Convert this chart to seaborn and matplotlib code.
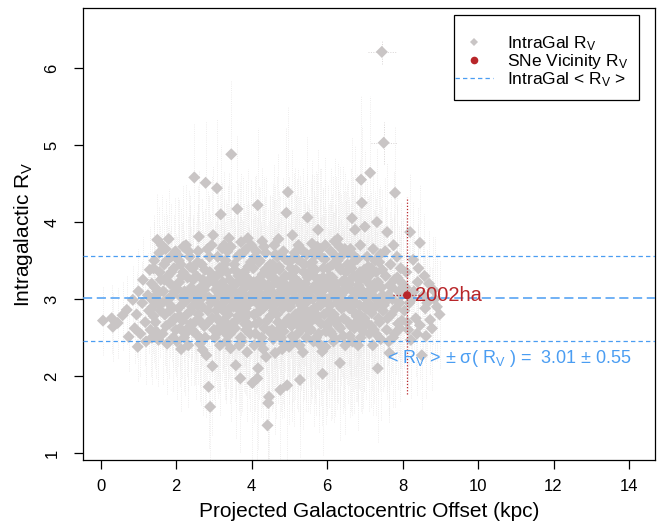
import matplotlib
matplotlib.use("Agg")
import matplotlib.pyplot as plt
from matplotlib.lines import Line2D
from matplotlib.patches import Rectangle
import matplotlib.transforms as mtransforms
import seaborn as sns
import pandas as pd
import numpy as np

# ---------------- data ----------------
# intragalactic sample: rows of 10 points
offset_kpc = [
    0.06, 0.29, 0.32, 0.45, 0.58, 0.69, 0.74, 0.85, 0.98, 0.90,
    0.95, 1.00, 1.05, 1.10, 1.12, 1.18, 1.20, 1.25, 1.28, 1.30,
    1.32, 1.35, 1.38, 1.42, 1.45, 1.48, 1.50, 1.53, 1.56, 1.58,
    1.34, 1.40, 1.44, 1.47, 1.52, 1.55, 1.40, 1.36, 1.50, 1.59,
    1.62, 1.64, 1.66, 1.68, 1.70, 1.72, 1.74, 1.76, 1.78, 1.80,
    1.82, 1.84, 1.86, 1.88, 1.90, 1.92, 1.94, 1.96, 1.98, 2.00,
    1.63, 1.69, 1.73, 1.79, 1.83, 1.87, 1.91, 1.95, 1.99, 1.75,
    2.02, 2.04, 2.06, 2.08, 2.10, 2.12, 2.14, 2.16, 2.18, 2.20,
    2.22, 2.24, 2.26, 2.28, 2.30, 2.32, 2.34, 2.36, 2.38, 2.40,
    2.42, 2.44, 2.46, 2.48, 2.50, 2.03, 2.09, 2.15, 2.21, 2.27,
    2.33, 2.39, 2.45, 2.49, 2.07, 2.19, 2.31, 2.43, 2.13, 2.37,
    2.52, 2.54, 2.56, 2.58, 2.60, 2.62, 2.64, 2.66, 2.68, 2.70,
    2.72, 2.74, 2.76, 2.78, 2.80, 2.82, 2.84, 2.86, 2.88, 2.90,
    2.92, 2.94, 2.96, 2.98, 3.00, 2.53, 2.59, 2.65, 2.71, 2.77,
    2.83, 2.89, 2.95, 2.57, 2.63, 2.69, 2.75, 2.81, 2.87, 2.93,
    3.02, 3.04, 3.06, 3.08, 3.10, 3.12, 3.14, 3.16, 3.18, 3.20,
    3.22, 3.24, 3.26, 3.28, 3.30, 3.32, 3.34, 3.36, 3.38, 3.40,
    3.42, 3.44, 3.46, 3.48, 3.50, 3.03, 3.09, 3.15, 3.21, 3.27,
    3.33, 3.39, 3.45, 3.49, 3.07, 3.13, 3.19, 3.25, 3.31, 3.37,
    3.05, 3.11, 3.17, 3.23, 3.29, 3.35, 3.41, 3.47, 3.43, 3.26,
    3.52, 3.54, 3.56, 3.58, 3.60, 3.62, 3.64, 3.66, 3.68, 3.70,
    3.72, 3.74, 3.76, 3.78, 3.80, 3.82, 3.84, 3.86, 3.88, 3.90,
    3.92, 3.94, 3.96, 3.98, 3.53, 3.59, 3.65, 3.71, 3.77, 3.83,
    3.89, 3.95, 3.99, 3.55, 3.61, 3.67, 3.73, 3.79, 3.85, 3.91,
    3.57, 3.63, 3.69, 3.75, 3.81, 3.87, 3.93, 3.97, 3.68, 3.84,
    4.02, 4.04, 4.06, 4.08, 4.10, 4.12, 4.14, 4.16, 4.18, 4.20,
    4.22, 4.24, 4.26, 4.28, 4.30, 4.32, 4.34, 4.36, 4.38, 4.40,
    4.42, 4.44, 4.46, 4.48, 4.50, 4.03, 4.09, 4.15, 4.17, 4.21,
    4.27, 4.33, 4.39, 4.45, 4.49, 4.05, 4.11, 4.23, 4.29, 4.35,
    4.41, 4.47, 4.07, 4.13, 4.19, 4.25, 4.31, 4.37, 4.43, 4.14,
    4.52, 4.54, 4.56, 4.58, 4.60, 4.62, 4.64, 4.66, 4.68, 4.70,
    4.72, 4.74, 4.76, 4.78, 4.80, 4.82, 4.84, 4.86, 4.88, 4.90,
    4.92, 4.94, 4.96, 4.98, 5.00, 4.53, 4.59, 4.65, 4.71, 4.77,
    4.83, 4.89, 4.95, 4.99, 4.55, 4.61, 4.67, 4.73, 4.79, 4.85,
    4.91, 4.97, 4.57, 4.63, 4.69, 4.75, 4.81, 4.87, 4.93, 4.64,
    5.02, 5.04, 5.06, 5.08, 5.10, 5.12, 5.14, 5.16, 5.18, 5.20,
    5.22, 5.24, 5.26, 5.28, 5.30, 5.32, 5.34, 5.36, 5.38, 5.40,
    5.42, 5.44, 5.46, 5.48, 5.50, 5.03, 5.09, 5.15, 5.21, 5.27,
    5.33, 5.39, 5.45, 5.49, 5.05, 5.11, 5.17, 5.23, 5.29, 5.35,
    5.41, 5.47, 5.07, 5.13, 5.19, 5.25, 5.31, 5.37, 5.43, 5.26,
    5.52, 5.54, 5.56, 5.58, 5.60, 5.62, 5.64, 5.66, 5.68, 5.70,
    5.72, 5.74, 5.76, 5.78, 5.80, 5.82, 5.84, 5.86, 5.88, 5.90,
    5.92, 5.94, 5.96, 5.98, 6.00, 5.53, 5.59, 5.65, 5.71, 5.77,
    5.83, 5.89, 5.95, 5.99, 5.55, 5.61, 5.67, 5.73, 5.79, 5.85,
    5.91, 5.97, 5.57, 5.63, 5.69, 5.75, 5.81, 5.87, 5.93, 5.74,
    6.02, 6.04, 6.06, 6.08, 6.10, 6.12, 6.14, 6.16, 6.18, 6.20,
    6.22, 6.24, 6.26, 6.28, 6.30, 6.32, 6.34, 6.36, 6.38, 6.40,
    6.42, 6.44, 6.46, 6.48, 6.50, 6.03, 6.09, 6.15, 6.21, 6.27,
    6.33, 6.39, 6.45, 6.49, 6.05, 6.11, 6.17, 6.23, 6.29, 6.35,
    6.41, 6.47, 6.07, 6.13, 6.19, 6.25, 6.31, 6.37, 6.43, 6.28,
    6.52, 6.54, 6.56, 6.58, 6.60, 6.62, 6.64, 6.66, 6.68, 6.70,
    6.72, 6.74, 6.76, 6.78, 6.80, 6.82, 6.84, 6.86, 6.88, 6.90,
    6.92, 6.94, 6.96, 6.98, 7.00, 6.53, 6.59, 6.65, 6.71, 6.77,
    6.83, 6.89, 6.95, 6.99, 6.55, 6.61, 6.67, 6.73, 6.79, 6.85,
    6.91, 6.97, 6.57, 6.63, 6.69, 6.75, 6.81, 6.87, 6.93, 6.64,
    7.02, 7.04, 7.06, 7.08, 7.10, 7.12, 7.14, 7.16, 7.18, 7.20,
    7.22, 7.24, 7.26, 7.28, 7.30, 7.32, 7.34, 7.36, 7.38, 7.40,
    7.42, 7.44, 7.46, 7.48, 7.50, 7.05, 7.11, 7.17, 7.23, 7.29,
    7.35, 7.41, 7.47, 7.03, 7.09, 7.15, 7.21, 7.27, 7.33, 7.39,
    7.52, 7.55, 7.58, 7.59, 7.62, 7.65, 7.68, 7.70, 7.72, 7.75,
    7.78, 7.80, 7.82, 7.85, 7.88, 7.90, 7.92, 7.95, 7.98, 8.00,
    7.54, 7.60, 7.66, 7.73, 7.79, 7.86, 7.93, 7.97, 7.63, 7.76,
    8.05, 8.10, 8.15, 8.20, 8.22, 8.28, 8.30, 8.35, 8.40, 8.46,
    8.46, 8.51, 8.55, 8.60, 8.65, 8.70, 8.73, 8.81, 8.91, 8.98,
    8.08, 8.18, 8.25, 8.38, 8.42, 8.58, 8.62, 8.78, 8.85, 8.12,
]
rv_intragal = [
    2.72, 2.75, 2.64, 2.69, 2.79, 2.86, 2.51, 2.99, 2.38, 2.62,
    2.80, 3.10, 2.55, 2.95, 3.25, 2.70, 2.45, 3.05, 2.85, 3.38,
    2.60, 3.20, 2.90, 3.50, 2.70, 3.05, 3.77, 2.47, 3.35, 2.85,
    3.00, 2.78, 3.15, 2.58, 2.95, 3.60, 3.40, 2.50, 3.10, 3.25,
    3.70, 2.55, 3.10, 3.45, 2.80, 3.65, 2.98, 2.42, 3.30, 3.78,
    2.68, 3.20, 3.55, 2.90, 3.05, 2.50, 3.40, 2.75, 3.62, 3.15,
    2.95, 3.25, 2.65, 3.00, 2.85, 3.35, 2.72, 3.10, 2.60, 3.50,
    2.45, 3.57, 2.88, 3.22, 2.62, 3.45, 3.02, 2.72, 3.35, 2.95,
    3.10, 2.55, 3.70, 2.80, 3.28, 2.40, 3.05, 3.55, 2.68, 3.15,
    2.90, 3.40, 2.58, 4.58, 3.00, 3.12, 2.78, 3.30, 2.50, 2.98,
    3.62, 2.85, 3.25, 2.70, 3.50, 3.68, 2.62, 3.05, 2.35, 3.42,
    2.55, 3.30, 2.92, 3.62, 3.81, 2.72, 3.15, 2.48, 3.45, 2.34,
    3.05, 2.65, 3.38, 4.51, 2.27, 3.20, 2.85, 1.86, 3.55, 1.60,
    2.95, 3.70, 2.13, 3.83, 2.60, 3.10, 2.80, 3.00, 3.25, 2.50,
    3.65, 3.35, 2.75, 3.48, 2.42, 2.90, 3.12, 2.68, 3.02, 3.28,
    2.50, 3.20, 2.85, 4.44, 3.55, 2.62, 3.08, 2.40, 4.10, 3.35,
    3.66, 2.95, 2.72, 3.45, 3.15, 2.55, 3.00, 3.62, 2.80, 3.79,
    3.25, 2.36, 4.88, 2.68, 3.10, 3.00, 2.75, 3.40, 2.90, 3.70,
    2.45, 3.05, 3.68, 2.98, 3.30, 2.58, 3.18, 2.85, 3.50, 2.65,
    3.12, 2.92, 2.70, 3.22, 2.60, 3.35, 2.88, 3.15, 2.55, 3.02,
    2.90, 3.45, 2.62, 2.14, 3.20, 4.17, 2.78, 3.05, 3.58, 1.97,
    3.74, 2.45, 3.12, 2.85, 3.35, 2.68, 3.00, 3.65, 2.31, 3.79,
    3.25, 2.95, 2.55, 3.48, 3.10, 2.72, 3.30, 2.50, 3.60, 3.15,
    2.80, 3.05, 3.70, 3.38, 2.92, 2.40, 3.22, 2.98, 2.60, 3.42,
    3.00, 3.55, 2.85, 3.08, 2.75, 3.28, 2.66, 3.18, 3.32, 2.88,
    1.91, 3.40, 2.80, 3.10, 2.55, 3.62, 2.95, 4.22, 3.25, 2.70,
    3.50, 2.42, 3.05, 3.75, 2.88, 3.20, 2.62, 3.38, 2.25, 3.00,
    1.36, 1.65, 1.73, 3.30, 2.78, 2.98, 3.55, 1.97, 2.10, 3.15,
    2.50, 3.68, 2.92, 3.12, 3.45, 3.22, 2.68, 2.85, 3.32, 3.05,
    2.72, 2.58, 2.40, 3.08, 3.48, 2.98, 2.35, 3.60, 3.18, 2.82,
    3.10, 2.60, 3.45, 2.85, 3.70, 2.30, 3.25, 2.95, 3.55, 2.70,
    3.05, 3.38, 1.82, 2.50, 3.15, 2.88, 3.62, 2.42, 3.00, 3.30,
    4.12, 1.88, 4.39, 2.75, 3.48, 2.92, 3.20, 2.55, 3.78, 2.98,
    2.65, 3.52, 3.08, 2.38, 3.35, 3.00, 2.80, 3.42, 3.12, 2.58,
    3.18, 2.90, 2.48, 3.58, 3.22, 2.62, 2.35, 3.28, 2.72, 3.02,
    2.90, 3.40, 2.65, 3.83, 3.10, 2.45, 3.60, 2.80, 3.25, 3.00,
    2.55, 3.70, 3.15, 1.95, 2.85, 3.48, 3.05, 2.31, 3.35, 2.70,
    3.20, 2.95, 3.58, 4.06, 2.60, 3.30, 2.72, 3.02, 3.52, 2.40,
    3.12, 2.88, 2.50, 3.28, 3.18, 2.98, 3.38, 2.75, 3.65, 2.62,
    3.45, 3.08, 2.52, 3.55, 2.68, 3.22, 2.92, 3.62, 2.78, 3.02,
    3.10, 2.62, 3.45, 2.85, 3.72, 3.00, 2.45, 3.30, 2.75, 3.58,
    3.15, 2.90, 3.90, 2.55, 3.25, 3.65, 2.68, 3.05, 2.03, 3.40,
    2.80, 3.52, 2.38, 3.18, 2.95, 3.35, 2.72, 3.62, 2.50, 3.08,
    2.92, 3.28, 3.70, 2.65, 3.02, 3.48, 2.88, 3.20, 2.42, 3.55,
    3.12, 2.58, 2.60, 3.15, 3.38, 2.78, 3.00, 2.32, 3.25, 3.68,
    3.40, 2.70, 3.15, 2.92, 3.62, 2.55, 3.28, 3.05, 2.80, 3.75,
    2.48, 3.20, 2.95, 3.50, 2.65, 3.10, 2.17, 3.38, 2.88, 3.00,
    3.58, 2.75, 3.25, 2.40, 3.12, 3.00, 2.58, 3.45, 3.08, 2.72,
    3.68, 3.22, 2.90, 3.35, 2.85, 3.18, 2.45, 3.55, 3.02, 2.62,
    2.98, 3.65, 3.30, 2.78, 3.15, 2.68, 3.42, 3.05, 2.52, 3.78,
    2.95, 3.45, 2.70, 3.20, 2.52, 3.65, 3.00, 4.05, 2.85, 3.30,
    2.62, 3.90, 3.10, 2.78, 3.52, 2.40, 3.25, 2.92, 3.70, 4.55,
    4.25, 3.05, 2.58, 3.38, 3.94, 3.15, 2.88, 3.40, 3.02, 2.68,
    3.18, 2.50, 3.28, 2.75, 3.60, 2.98, 2.45, 3.55, 3.08, 2.80,
    3.12, 2.90, 3.22, 2.65, 3.48, 2.95, 2.72, 3.35, 2.62, 3.12,
    3.25, 2.70, 3.55, 2.95, 3.10, 2.55, 4.64, 3.40, 2.82, 3.05,
    3.65, 2.60, 3.20, 2.90, 3.35, 4.00, 2.10, 2.75, 3.48, 3.00,
    2.48, 3.15, 3.38, 2.85, 2.92, 3.00, 3.30, 2.65, 3.12, 2.55,
    3.22, 3.58, 3.05, 2.88, 3.42, 3.18, 2.40, 3.50, 2.98, 2.70,
    2.95, 3.30, 2.60, 3.87, 3.05, 2.30, 3.45, 2.80, 3.15, 2.50,
    3.25, 4.38, 2.88, 3.55, 2.68, 3.10, 2.95, 3.40, 2.72, 3.20,
    3.62, 2.75, 3.18, 3.00, 2.55, 3.28, 2.62, 3.05, 2.45, 3.70,
    2.85, 3.35, 2.60, 3.87, 2.47, 3.51, 3.10, 2.75, 3.22, 3.73,
    2.66, 2.27, 3.05, 2.88, 2.95, 3.20, 2.73, 3.12, 2.90, 2.80,
    3.15, 2.95, 3.00, 2.55, 3.40, 3.30, 2.52, 2.62, 3.00, 2.70,
]
# one R_V uncertainty per row of 10 points above
rv_err_per_row = [
    0.45, 0.55, 0.60, 0.60, 0.65, 0.70, 0.60,
    0.75, 0.80, 0.70, 0.80,
    0.85, 0.80, 0.90, 0.75,
    0.90, 0.85, 0.95, 0.80, 0.90,
    0.95, 0.90, 1.00, 0.85, 0.95,
    1.00, 0.95, 1.05, 0.90, 1.00,
    1.05, 0.95, 1.10, 1.00, 0.90,
    1.10, 1.00, 1.05, 0.95, 1.10,
    1.10, 1.05, 1.00, 1.15, 0.95,
    1.10, 1.00, 1.15, 1.05, 1.00,
    1.05, 1.10, 1.00, 0.95, 1.10,
    1.00, 0.95, 1.05, 0.90,
    0.90, 0.85, 0.95,
    0.75, 0.70, 0.80,
]
# isolated, well measured points (with offset uncertainty visible)
iso_offset_kpc = [7.45, 7.50]
iso_rv = [6.21, 5.03]
iso_rv_err = [0.16, 0.27]
iso_offset_err = [0.37, 0.35]

# SN 2002ha vicinity
sn_name = "2002ha"
sn_offset_kpc = [8.12]
sn_rv = [3.05]
sn_rv_err = [1.28]
sn_offset_err = [0.37]

mean_rv = 3.01
sd_rv = 0.55

x_ticks = [0, 2, 4, 6, 8, 10, 12, 14]
y_ticks = [1, 2, 3, 4, 5, 6]

# ---------------- figure ----------------
plt.rcParams["font.family"] = ["Liberation Sans", "DejaVu Sans"]
plt.rcParams["mathtext.fontset"] = "custom"
plt.rcParams["mathtext.rm"] = "Liberation Sans"
plt.rcParams["mathtext.it"] = "Liberation Sans:italic"
plt.rcParams["mathtext.bf"] = "Liberation Sans:bold"

GRAY_PT = "#C9C5C5"
GRAY_ERR = "#E8E6E6"
RED = "#B8262A"
BLUE = "#4A9DF2"

n = min(len(offset_kpc), len(rv_intragal))
rv_err = np.repeat(rv_err_per_row, 10)[:n]
df = pd.DataFrame({"offset": offset_kpc[:n], "rv": rv_intragal[:n], "err": rv_err})
iso = pd.DataFrame({"offset": iso_offset_kpc, "rv": iso_rv,
                    "err": iso_rv_err, "xerr": iso_offset_err})
sn = pd.DataFrame({"offset": sn_offset_kpc, "rv": sn_rv,
                   "err": sn_rv_err, "xerr": sn_offset_err})

W, H = 670, 526
L, R, T, B = 83, 655, 8, 460
fig = plt.figure(figsize=(W / 100, H / 100), dpi=100)
ax = fig.add_axes([L / W, 1 - B / H, (R - L) / W, (B - T) / H])


def ax_frac(px, py):
    return ((px - L) / (R - L), 1 - (py - T) / (B - T))


# error bars underneath the points
ax.vlines(df["offset"], df["rv"] - df["err"], df["rv"] + df["err"],
          colors=GRAY_ERR, linestyles=(0, (1, 1.6)), linewidth=0.6, zorder=1)
ax.vlines(iso["offset"], iso["rv"] - iso["err"], iso["rv"] + iso["err"],
          colors="#D8D4D4", linestyles=(0, (1, 1.5)), linewidth=0.7, zorder=1)
ax.hlines(iso["rv"], iso["offset"] - iso["xerr"], iso["offset"] + iso["xerr"],
          colors="#D8D4D4", linestyles=(0, (1, 1.5)), linewidth=0.7, zorder=1)

sns.scatterplot(data=df, x="offset", y="rv", marker="D", s=38, color=GRAY_PT,
                edgecolor="none", linewidth=0, ax=ax, legend=False, zorder=2)
sns.scatterplot(data=iso, x="offset", y="rv", marker="D", s=38, color=GRAY_PT,
                edgecolor="none", linewidth=0, ax=ax, legend=False, zorder=2)

# mean +- sigma lines
ax.axhline(mean_rv, color=BLUE, lw=1.1, ls=(0, (6, 3)), zorder=4)
ax.axhline(mean_rv + sd_rv, color=BLUE, lw=0.9, ls=(0, (3.5, 2.5)), zorder=4)
ax.axhline(mean_rv - sd_rv, color=BLUE, lw=0.9, ls=(0, (3.5, 2.5)), zorder=4)

# SN vicinity point
ax.vlines(sn["offset"], sn["rv"] - sn["err"], sn["rv"] + sn["err"],
          colors=RED, linestyles=(0, (1, 1.5)), linewidth=0.9, zorder=5)
ax.hlines(sn["rv"], sn["offset"] - sn["xerr"], sn["offset"] + sn["xerr"],
          colors=RED, linestyles=(0, (1, 1.5)), linewidth=0.9, zorder=5)
sns.scatterplot(data=sn, x="offset", y="rv", marker="o", s=34, color=RED,
                edgecolor="none", linewidth=0, ax=ax, legend=False, zorder=6)
ax.text(sn_offset_kpc[0] + 0.2, sn_rv[0], sn_name, color=RED, fontsize=14.5,
        ha="left", va="center", zorder=6)

ax.text(10.82, 2.23,
        r"< R$_\mathrm{V}$ > ± σ( R$_\mathrm{V}$ ) =  "
        + f"{mean_rv:.2f} ± {sd_rv:.2f}",
        color=BLUE, fontsize=13, ha="center", va="center", zorder=6)

ax.set_xlim(-0.47, 14.69)
ax.set_ylim(0.91, 6.78)
ax.set_xticks(x_ticks)
ax.set_yticks(y_ticks)
ax.tick_params(direction="out", length=6.5, width=0.9, labelsize=12,
               colors="black")
ax.tick_params(axis="x", pad=7)
# y tick labels written parallel to the axis (R style)
ax.tick_params(axis="y", labelleft=False)
ylab_trans = mtransforms.blended_transform_factory(ax.transAxes, ax.transData)
for v in y_ticks:
    ax.text((52 - L) / (R - L), v, str(v), rotation=90, ha="center",
            va="center", fontsize=12, transform=ylab_trans, clip_on=False)
for sp in ax.spines.values():
    sp.set_color("black")
    sp.set_linewidth(0.9)

ax.set_xlabel("Projected Galactocentric Offset (kpc)", fontsize=15, labelpad=6)
ax.set_ylabel(r"Intragalactic R$_\mathrm{V}$", fontsize=15)
ax.yaxis.set_label_coords((35 - L) / (R - L), 0.5)

# legend: frame drawn at the reference position
x0, y0 = ax_frac(454, 100)
x1, y1 = ax_frac(639, 15)
ax.add_patch(Rectangle((x0, y0), x1 - x0, y1 - y0, transform=ax.transAxes,
                       facecolor="white", edgecolor="black", lw=0.9,
                       zorder=7, clip_on=False))
handles = [
    Line2D([], [], marker="D", ls="none", color=GRAY_PT, markersize=4.5,
           markeredgewidth=0),
    Line2D([], [], marker="o", ls="none", color=RED, markersize=5.5,
           markeredgewidth=0),
    Line2D([], [], color=BLUE, lw=0.9, ls=(0, (3.5, 2.5))),
]
labels = [r"IntraGal R$_\mathrm{V}$", r"SNe Vicinity R$_\mathrm{V}$",
          r"IntraGal < R$_\mathrm{V}$ >"]
lx, ly = ax_frac(455, 34)
leg = ax.legend(handles, labels, loc="upper left", bbox_to_anchor=(lx, ly),
                borderaxespad=0, borderpad=0, fontsize=12.5, frameon=False,
                labelspacing=-0.05, handlelength=2.2, handletextpad=0.8)
leg.set_zorder(8)

fig.savefig("out.png", dpi=100)
